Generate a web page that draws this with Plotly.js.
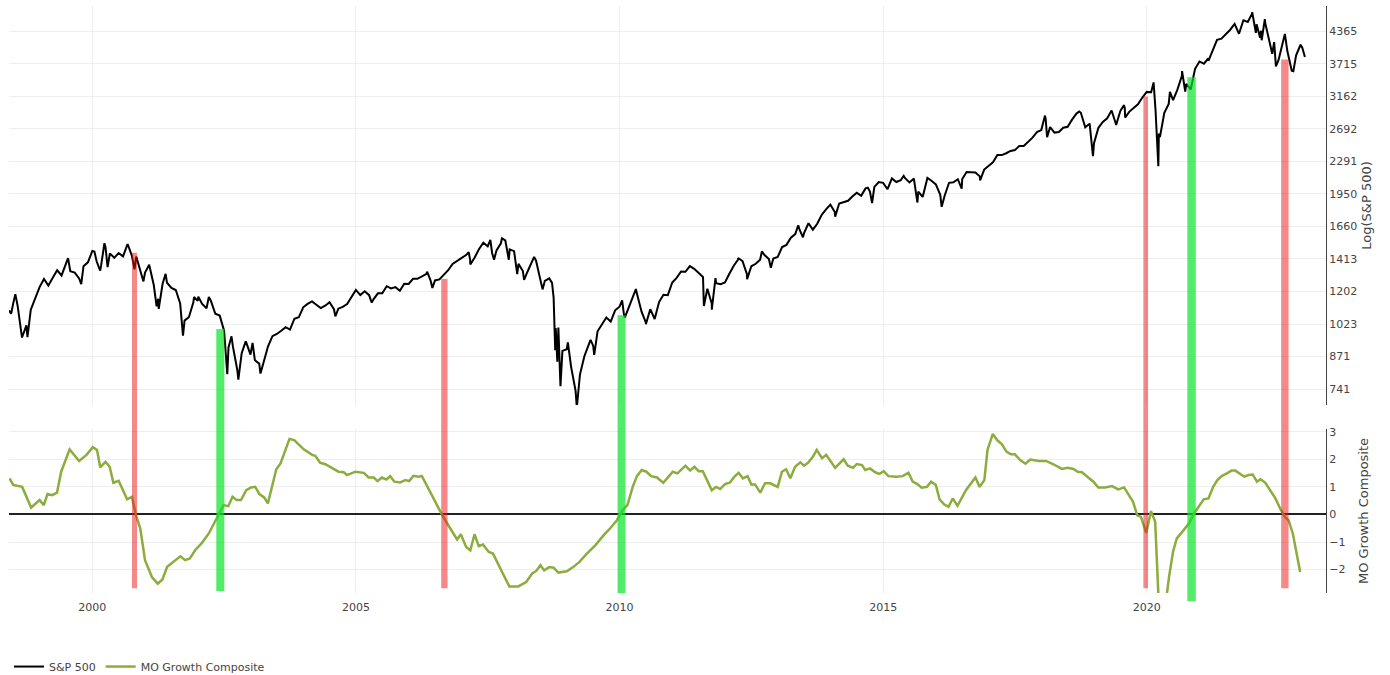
<!DOCTYPE html>
<html><head><meta charset="utf-8">
<script src="https://cdn.plot.ly/plotly-3.0.1.min.js"></script>
<style>html,body{margin:0;padding:0;background:#fff}#chart{width:1390px;height:675px}</style>
</head><body><div id="chart"></div>
<script>
// ---------- S&P 500: month-end closes, starting June 1998 ----------
const spxFirstYear = 1998;
const spxFirstMonth = 6;
const spxMonthEnd = [
  1133.8,1120.7,957.3,1017.0,1098.7,1163.6,1229.2,
  1279.6,1238.3,1286.4,1335.2,1301.8,1372.7,1328.7,1320.4,1282.7,1362.9,1388.9,1469.3,
  1394.5,1366.4,1498.6,1452.4,1420.6,1454.6,1430.8,1517.7,1436.5,1429.4,1315.0,1320.3,
  1366.0,1239.9,1160.3,1249.5,1255.8,1224.4,1211.2,1133.6,1040.9,1059.8,1139.5,1148.1,
  1130.2,1106.7,1147.4,1076.9,1067.1,989.8,911.6,916.1,815.3,885.8,936.3,879.8,
  855.7,841.2,848.2,916.9,963.6,974.5,990.3,1008.0,996.0,1050.7,1058.2,1111.9,
  1131.1,1144.9,1126.2,1107.3,1120.7,1140.8,1101.7,1104.2,1114.6,1130.2,1173.8,1211.9,
  1181.3,1203.6,1180.6,1156.9,1191.5,1191.3,1234.2,1220.3,1228.8,1207.0,1249.5,1248.3,
  1280.1,1280.7,1294.8,1310.6,1270.1,1270.2,1276.7,1303.8,1335.9,1377.9,1400.6,1418.3,
  1438.2,1406.8,1420.9,1482.4,1530.6,1503.4,1455.3,1474.0,1526.8,1549.4,1481.1,1468.4,
  1378.6,1330.6,1322.7,1385.6,1400.4,1280.0,1267.4,1282.8,1166.4,968.8,896.2,903.3,
  825.9,735.1,797.9,872.8,919.1,919.3,987.5,1020.6,1057.1,1036.2,1095.6,1115.1,
  1073.9,1104.5,1169.4,1186.7,1089.4,1030.7,1101.6,1049.3,1141.2,1183.3,1180.6,1257.6,
  1286.1,1327.2,1325.8,1363.6,1345.2,1320.6,1292.3,1218.9,1131.4,1253.3,1247.0,1257.6,
  1312.4,1365.7,1408.5,1397.9,1310.3,1362.2,1379.3,1406.6,1440.7,1412.2,1416.2,1426.2,
  1498.1,1514.7,1569.2,1597.6,1630.7,1606.3,1685.7,1633.0,1681.6,1756.5,1805.8,1848.4,
  1782.6,1859.5,1872.3,1884.0,1923.6,1960.2,1930.7,2003.4,1972.3,2018.1,2067.6,2058.9,
  1995.0,2104.5,2067.9,2085.5,2107.4,2063.1,2103.8,1972.2,1920.0,2079.4,2080.4,2043.9,
  1940.2,1932.2,2059.7,2065.3,2097.0,2098.9,2173.6,2171.0,2168.3,2126.2,2198.8,2238.8,
  2278.9,2363.6,2362.7,2384.2,2411.8,2423.4,2470.3,2471.7,2519.4,2575.3,2647.6,2673.6,
  2823.8,2713.8,2640.9,2648.1,2705.3,2718.4,2816.3,2901.5,2914.0,2711.7,2760.2,2506.9,
  2704.1,2784.5,2834.4,2945.8,2752.1,2941.8,2980.4,2926.5,2976.7,3037.6,3141.0,3230.8,
  3225.5,2954.2,2584.6,2912.4,3044.3,3100.3,3271.1,3500.3,3363.0,3270.0,3621.6,3756.1,
  3714.2,3811.2,3972.9,4181.2,4204.1,4297.5,4395.3,4522.7,4307.5,4605.4,4567.0,4766.2,
  4515.6,4373.9,4530.4,4131.9,4132.2,3785.4,4130.3,3955.0,3585.6,3872.0,4080.1,3839.5
];
// intra-month highs / lows (decimal year, level)
const spxSwingX = [1998.42,1998.46,1998.54,1998.77,1999.54,1999.79,2000.04,2000.15,2000.23,2000.29,2000.67,2000.80,2000.97,
  2001.08,2001.22,2001.26,2001.39,2001.72,2001.93,2002.01,2002.21,2002.56,2002.64,2002.77,2002.91,2003.04,2003.19,
  2004.61,2005.30,2006.35,2006.45,2007.14,2007.17,2007.55,2007.62,2007.77,2007.90,2008.06,2008.19,2008.38,2008.54,
  2008.72,2008.78,2008.79,2008.82,2008.84,2008.88,2009.02,2009.19,2009.45,2009.52,2010.05,2010.10,2010.31,2010.50,
  2011.60,2011.75,2011.82,2012.25,2012.42,2012.70,2012.87,2013.39,2013.48,2014.09,2014.71,2014.79,2015.39,2015.65,
  2015.84,2016.11,2016.49,2016.84,2018.07,2018.11,2018.72,2018.98,2019.42,2019.57,2019.59,2020.13,2020.22,2020.23,
  2020.44,2020.67,2020.73,2021.17,2022.00,2022.07,2022.15,2022.18,2022.24,2022.38,2022.45,2022.62,2022.78,2022.95];
const spxSwingY = [1095,1077,1187,959,1419,1247,1465,1333,1527,1357,1521,1342,1264,
  1373,1117,1103,1312,966,1170,1172,1170,798,963,777,939,932,801,
  1063,1138,1326,1224,1460,1374,1553,1407,1565,1407,1310,1273,1427,1215,
  1255,899,1003,849,1006,752,935,677,946,879,1150,1057,1217,1023,
  1119,1099,1285,1419,1278,1466,1353,1669,1573,1742,2011,1862,2131,1868,
  2110,1829,2001,2085,2873,2581,2931,2351,2744,3026,2845,3386,2237,2630,
  3232,3581,3237,3769,4797,4327,4226,4171,4632,3901,3667,4305,3577,4020];

// ---------- MO Growth Composite (decimal year, value) ----------
const moX = [1998.43,1998.50,1998.67,1998.84,1999.00,1999.08,1999.15,1999.24,1999.33,1999.41,1999.57,1999.75,1999.89,
  2000.01,2000.09,2000.15,2000.25,2000.33,2000.40,2000.50,2000.66,2000.75,2000.83,2000.91,
  2001.00,2001.13,2001.24,2001.33,2001.42,2001.54,2001.67,2001.76,2001.85,2001.95,
  2002.08,2002.21,2002.35,2002.49,2002.58,2002.66,2002.74,2002.82,2002.92,
  2003.01,2003.09,2003.17,2003.26,2003.33,2003.49,2003.57,2003.74,2003.83,
  2004.01,2004.17,2004.23,2004.32,2004.42,2004.58,2004.67,2004.77,2004.83,2004.89,2004.99,
  2005.15,2005.24,2005.34,2005.41,2005.49,2005.58,2005.65,2005.73,2005.84,2005.94,
  2006.01,2006.09,2006.19,2006.25,2006.44,2006.63,2006.79,2006.92,2006.99,
  2007.09,2007.17,2007.25,2007.33,2007.41,2007.52,2007.60,2007.74,2007.91,
  2008.08,2008.23,2008.34,2008.42,2008.50,2008.57,2008.67,2008.75,2008.84,
  2009.00,2009.12,2009.24,2009.38,2009.54,2009.70,2009.82,2009.95,
  2010.06,2010.15,2010.25,2010.33,2010.42,2010.51,2010.60,2010.71,2010.83,2010.93,
  2011.01,2011.10,2011.25,2011.34,2011.42,2011.50,2011.58,2011.75,2011.83,2011.91,
  2012.00,2012.09,2012.18,2012.26,2012.34,2012.43,2012.50,2012.57,2012.67,2012.76,2012.86,
  2013.00,2013.08,2013.16,2013.24,2013.33,2013.43,2013.50,2013.58,2013.67,2013.74,2013.84,2013.92,
  2014.09,2014.17,2014.25,2014.33,2014.43,2014.50,2014.60,2014.66,2014.75,2014.85,2014.93,
  2015.01,2015.10,2015.25,2015.37,2015.48,2015.56,2015.65,2015.73,2015.83,2015.91,
  2016.00,2016.07,2016.16,2016.24,2016.32,2016.41,2016.57,2016.75,2016.83,2016.92,2016.98,
  2017.08,2017.17,2017.25,2017.34,2017.42,2017.50,2017.60,2017.70,2017.79,2017.95,
  2018.09,2018.23,2018.39,2018.50,2018.61,2018.69,2018.77,2018.89,2018.99,
  2019.08,2019.21,2019.34,2019.46,2019.57,2019.65,2019.74,2019.82,2019.89,2019.99,
  2020.08,2020.16,2020.25,2020.33,2020.42,2020.50,2020.57,2020.70,2020.80,2020.90,2020.99,
  2021.08,2021.17,2021.26,2021.34,2021.42,2021.52,2021.61,2021.68,2021.76,2021.85,2021.93,
  2022.01,2022.09,2022.16,2022.25,2022.34,2022.44,2022.54,2022.62,2022.69,2022.77,2022.91];
const moY = [1.31,1.07,1.00,0.25,0.52,0.34,0.74,0.70,0.79,1.55,2.36,1.94,2.16,
  2.44,2.34,1.71,1.91,1.73,1.15,1.22,0.55,0.64,-0.03,-0.51,
  -1.66,-2.27,-2.51,-2.36,-1.90,-1.72,-1.52,-1.66,-1.60,-1.30,
  -1.03,-0.69,-0.15,0.34,0.30,0.64,0.52,0.52,0.88,
  0.98,1.00,0.74,0.62,0.40,1.64,1.85,2.74,2.70,
  2.36,2.16,2.13,1.88,1.82,1.64,1.55,1.53,1.43,1.47,1.55,
  1.51,1.34,1.34,1.21,1.34,1.27,1.39,1.19,1.16,1.25,
  1.21,1.40,1.37,1.40,0.70,0.00,-0.51,-0.91,-0.72,
  -1.18,-1.30,-0.72,-1.15,-1.09,-1.36,-1.42,-1.96,-2.61,
  -2.61,-2.45,-2.15,-2.05,-1.84,-2.03,-1.91,-1.93,-2.11,
  -2.06,-1.91,-1.72,-1.42,-1.12,-0.75,-0.51,-0.21,
  0.16,0.34,1.00,1.39,1.61,1.55,1.39,1.34,1.15,1.37,
  1.55,1.49,1.77,1.59,1.73,1.57,1.57,0.88,1.00,0.92,
  1.10,1.15,1.37,1.51,1.31,1.39,1.09,1.09,0.79,1.13,1.13,
  1.00,1.55,1.64,1.31,1.73,1.89,1.77,1.88,2.10,2.34,2.04,2.16,
  1.69,1.83,2.00,1.77,1.69,1.83,1.79,1.61,1.67,1.53,1.47,
  1.57,1.39,1.37,1.39,1.51,1.19,1.10,0.97,1.00,1.19,
  1.07,0.55,0.36,0.28,0.58,0.31,0.88,1.34,1.00,1.25,2.34,
  2.92,2.68,2.55,2.28,2.18,2.18,1.97,1.84,1.99,1.94,
  1.94,1.82,1.65,1.69,1.65,1.55,1.53,1.34,1.19,
  0.98,0.98,1.03,0.91,0.98,0.73,0.46,-0.03,-0.09,-0.67,
  0.12,-0.27,-4.2,-3.7,-2.3,-1.34,-0.87,-0.57,-0.33,0.04,0.30,
  0.55,0.58,1.00,1.25,1.39,1.49,1.59,1.59,1.49,1.37,1.43,
  1.45,1.19,1.28,1.15,0.88,0.58,0.18,-0.09,-0.21,-0.69,-2.09];

// ---------- Signals ----------
const signalType  = ['sell','buy','sell','buy','sell','buy','sell'];
const signalStart = [2000.753,2002.352,2006.618,2009.962,2019.936,2020.770,2022.550];
const signalEnd   = [2000.848,2002.504,2006.738,2010.114,2020.025,2020.930,2022.690];
const signalLevel = [1456,998,1280,1069,3157,3475,3792];
const signalFloor = [-2.68,-2.78,-2.68,-2.85,-2.68,-3.15,-2.68];

// ---------- Axis ticks ----------
const spxTicks = [741,871,1023,1202,1413,1660,1950,2291,2692,3162,3715,4365];
const yearTicks = [2000,2005,2010,2015,2020];

// ---------- build ----------
const spxPts = spxMonthEnd.map((v,i)=>[spxFirstYear + (spxFirstMonth + i)/12, v])
  .concat(spxSwingX.map((x,i)=>[x, spxSwingY[i]]))
  .sort((a,b)=>a[0]-b[0]);

const topDomain = [0.3203, 1];
const botDomain = [0, 0.2794];
const moRange = [-2.85, 3.1];
const spxRange = [2.836, 3.694];

const colors = {sell:'rgba(235,20,20,0.5)', buy:'rgba(10,228,40,0.7)'};
const shapes = [];
const gapTop = (topDomain[0]-botDomain[0])/(botDomain[1]-botDomain[0]);
signalType.forEach((t,i)=>{
  const c = colors[t];
  shapes.push({type:'rect', xref:'x', yref:'y2 domain', x0:signalStart[i], x1:signalEnd[i],
    y0:(signalFloor[i]-moRange[0])/(moRange[1]-moRange[0]), y1:gapTop,
    fillcolor:c, line:{width:0}, layer:'above'});
  shapes.push({type:'rect', xref:'x', yref:'y', x0:signalStart[i], x1:signalEnd[i],
    y0:Math.pow(10, spxRange[0]), y1:signalLevel[i],
    fillcolor:c, line:{width:0}, layer:'above'});
});

const traces = [
  {x:spxPts.map(p=>p[0]), y:spxPts.map(p=>p[1]), type:'scatter', mode:'lines', name:'S&P 500',
   xaxis:'x', yaxis:'y', line:{color:'#000', width:2}},
  {x:moX, y:moY, type:'scatter', mode:'lines', name:'MO Growth Composite',
   xaxis:'x', yaxis:'y2', line:{color:'rgb(140,172,62)', width:2.5}}
];

const layout = {
  width:1390, height:675,
  margin:{l:9, r:64, t:6, b:82},
  paper_bgcolor:'#fff', plot_bgcolor:'#fff',
  font:{family:'"DejaVu Sans", Verdana, sans-serif', size:11, color:'#444'},
  showlegend:true,
  legend:{orientation:'h', x:0, xanchor:'left', yref:'container', y:0.034, yanchor:'top', font:{size:11}},
  xaxis:{range:[1998.42, 2023.40], anchor:'y2', tickmode:'array', tickvals:yearTicks,
    ticktext:yearTicks.map(String), ticks:'outside', ticklen:4, tickcolor:'rgba(0,0,0,0)',
    showgrid:true, gridcolor:'#eee', zeroline:false, showline:false},
  yaxis:{type:'log', domain:topDomain, range:spxRange, side:'right', anchor:'x',
    tickmode:'array', tickvals:spxTicks, ticktext:spxTicks.map(String),
    showgrid:true, gridcolor:'#eee', showline:true, linecolor:'#444', linewidth:1, zeroline:false,
    title:{text:'Log(S&P 500)', font:{size:13, color:'#444'}}},
  yaxis2:{domain:botDomain, range:moRange, side:'right', anchor:'x', dtick:1, tick0:0,
    showgrid:true, gridcolor:'#eee', showline:true, linecolor:'#444', linewidth:1,
    zeroline:true, zerolinecolor:'#222', zerolinewidth:1.5,
    title:{text:'MO Growth Composite', font:{size:13, color:'#444'}}},
  shapes:shapes
};

Plotly.newPlot('chart', traces, layout, {displayModeBar:false, responsive:false});
</script></body></html>
